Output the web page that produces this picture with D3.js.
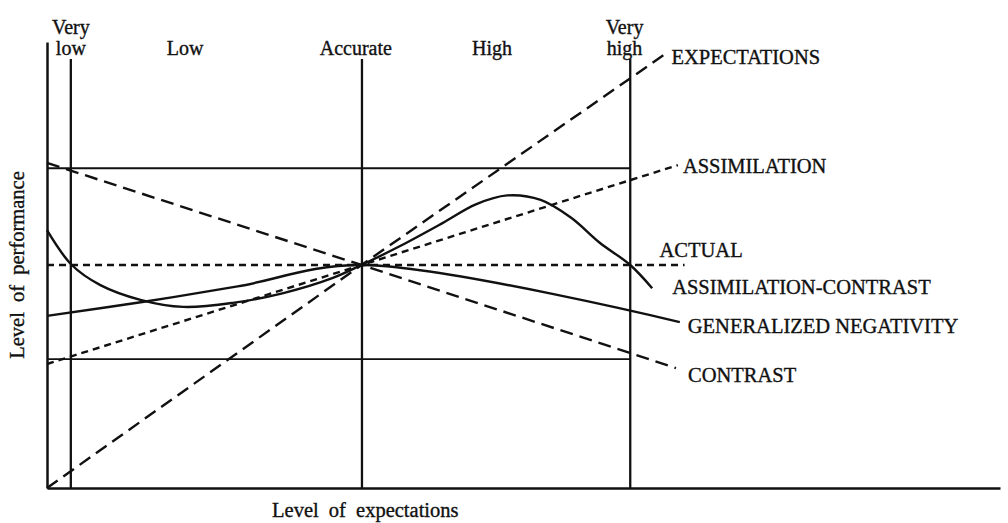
<!DOCTYPE html>
<html>
<head>
<meta charset="utf-8">
<script src="https://cdn.jsdelivr.net/npm/d3@7"></script>
<style>
  body { margin: 0; background: #fff; }
  svg { display: block; }
  text { font-family: "Liberation Serif", "Times New Roman", serif; fill: #111; stroke: #111; stroke-width: 0.35; }
</style>
</head>
<body>
<svg id="chart" width="1008" height="523"></svg>
<script>
// level of expectations, 0 = origin of the x axis, 100 = its right end
var levelNames  = [["Very", "low"], ["Low"], ["Accurate"], ["High"], ["Very", "high"]];
var levelLabelX = [2.5, 14.5, 32.4, 46.7, 60.6];
var guideX      = [2.5, 33.05, 61.2];   // very low, accurate, very high
var guideTop    = 96.2;
var bandY       = [28.9, 71.7];         // horizontal reference lines

// series, [expectation, performance]
var expectationsPts   = [[0, 0], [33, 50], [65, 97.5]];
var assimilationPts   = [[0, 27.8], [33, 50], [66.2, 72.4]];
var actualPts         = [[0, 50], [66.9, 50]];
var contrastPts       = [[0, 72.9], [33, 50], [66, 26.9]];
var negativityPts     = [[0, 38.6], [10, 41.7], [20, 45.2], [33, 50], [66.4, 37.2]];
var assimContrastPts  = [[0, 57.8], [2.6, 50], [5.6, 45.5], [9.8, 42.2], [14.3, 40.6], [19.5, 41.5],
                         [24.8, 43.7], [30, 47.1], [33, 50], [37, 54.2], [41.5, 59.4], [45, 63.6],
                         [48.3, 65.6], [51.8, 64.6], [55, 60.6], [58, 55], [61.2, 50], [63.5, 44.8]];

var seriesNames = ["EXPECTATIONS", "ASSIMILATION", "ACTUAL", "ASSIMILATION-CONTRAST", "GENERALIZED NEGATIVITY", "CONTRAST"];

var svg = d3.select("#chart");

var x = d3.scaleLinear().domain([0, 100]).range([47, 1000]);
var y = d3.scaleLinear().domain([0, 100]).range([488, 42]);

var LONG = "13,7", SHORT = "7,5";

var line = d3.line().x(function(d) { return x(d[0]); }).y(function(d) { return y(d[1]); });
var smooth = d3.line().curve(d3.curveCatmullRom.alpha(0.5))
  .x(function(d) { return x(d[0]); }).y(function(d) { return y(d[1]); });

/*
  frame
*/
var xAxis = d3.axisBottom(x).tickValues([]).tickSizeOuter(0);
var yAxis = d3.axisLeft(y).tickValues([]).tickSizeOuter(0);
svg.append("g").attr("transform", "translate(0," + y(0) + ")").call(xAxis)
  .select(".domain").attr("stroke", "#111").attr("stroke-width", 2.5);
svg.append("g").attr("transform", "translate(" + x(0) + ",0)").call(yAxis)
  .select(".domain").attr("stroke", "#111").attr("stroke-width", 2.5);

svg.selectAll(".guide").data(guideX).enter().append("line")
  .attr("class", "guide")
  .attr("x1", function(d) { return x(d); }).attr("x2", function(d) { return x(d); })
  .attr("y1", y(guideTop)).attr("y2", y(0))
  .attr("stroke", "#111").attr("stroke-width", 2.3);

svg.selectAll(".band").data(bandY).enter().append("line")
  .attr("class", "band")
  .attr("x1", x(0)).attr("x2", x(guideX[2]))
  .attr("y1", function(d) { return y(d); }).attr("y2", function(d) { return y(d); })
  .attr("stroke", "#111").attr("stroke-width", 1.9);

/*
  top labels
*/
var lab = svg.selectAll(".lvl").data(levelNames).enter().append("text")
  .attr("class", "lvl")
  .attr("text-anchor", "middle")
  .attr("font-size", 20)
  .attr("transform", function(d, i) { return "translate(" + x(levelLabelX[i]) + ",55)"; });
lab.selectAll("tspan").data(function(d) { return d; }).enter().append("tspan")
  .attr("x", 0)
  .attr("y", function(d, i, nodes) { return (i - nodes.length + 1) * 21; })
  .text(function(d) { return d; });

/*
  curves
*/
var series = [
  { pts: expectationsPts,  dash: LONG,  gen: line },
  { pts: assimilationPts,  dash: SHORT, gen: line },
  { pts: actualPts,        dash: SHORT, gen: line },
  { pts: assimContrastPts, dash: null,  gen: smooth },
  { pts: negativityPts,    dash: null,  gen: smooth },
  { pts: contrastPts,      dash: LONG,  gen: line }
];
svg.selectAll(".curve").data(series).enter().append("path")
  .attr("class", "curve")
  .attr("d", function(d) { return d.gen(d.pts); })
  .attr("fill", "none")
  .attr("stroke", "#111")
  .attr("stroke-width", 2.4)
  .attr("stroke-dasharray", function(d) { return d.dash; });

// end labels: pixel offsets from the last point of each curve
var labelOffsets = [[5, 11], [5, 8], [-25, -8], [20, 6], [8, 11], [12, 14]];
svg.selectAll(".slab").data(seriesNames).enter().append("text")
  .attr("class", "slab")
  .attr("font-size", 20.5)
  .attr("x", function(d, i) { var p = series[i].pts[series[i].pts.length - 1]; return x(p[0]) + labelOffsets[i][0]; })
  .attr("y", function(d, i) { var p = series[i].pts[series[i].pts.length - 1]; return y(p[1]) + labelOffsets[i][1]; })
  .text(function(d) { return d; });

/*
  axis titles
*/
svg.append("text")
  .attr("x", x(33.4)).attr("y", 517)
  .attr("text-anchor", "middle")
  .attr("font-size", 20.5).attr("word-spacing", 5)
  .text("Level of expectations");

svg.append("text")
  .attr("transform", "translate(24," + y(50) + ") rotate(-90)")
  .attr("text-anchor", "middle")
  .attr("font-size", 20.5).attr("word-spacing", 5)
  .text("Level of performance");
</script>
</body>
</html>
